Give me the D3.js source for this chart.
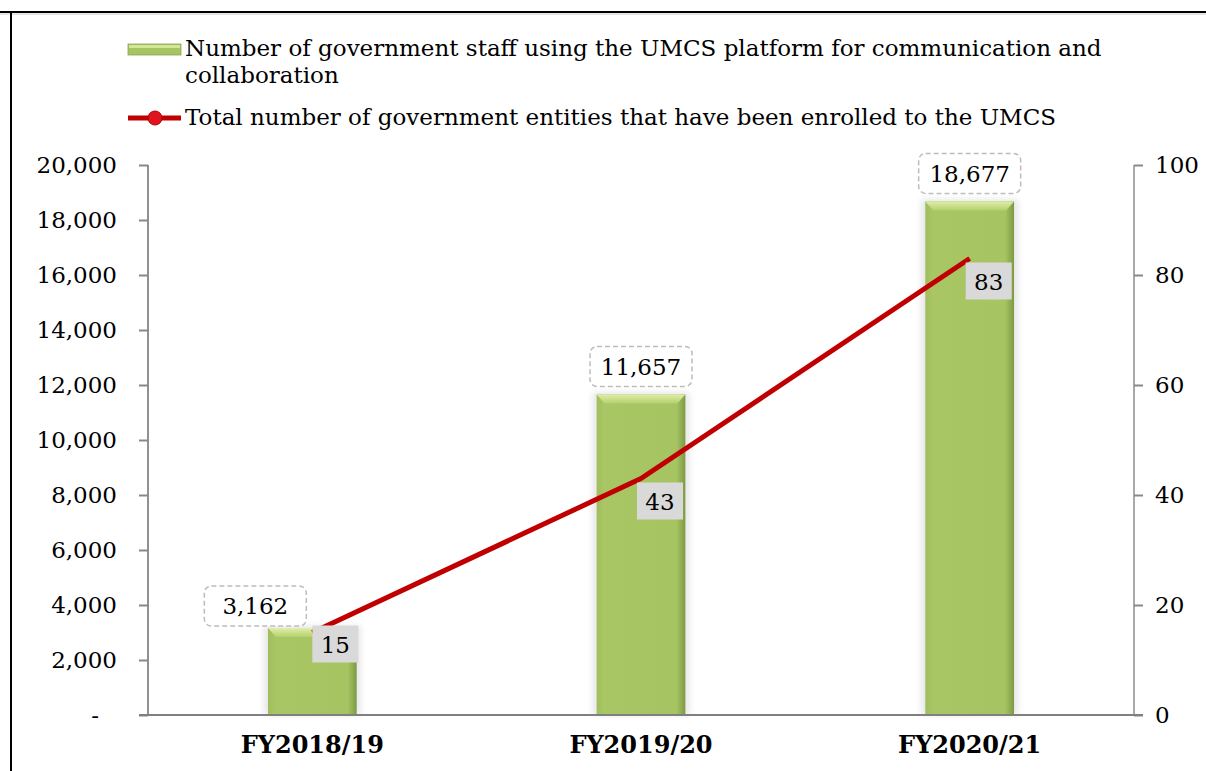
<!DOCTYPE html>
<html>
<head>
<meta charset="utf-8">
<script src="https://cdn.jsdelivr.net/npm/d3@7"></script>
<style>
    body { margin: 0; background: #fff; }
    svg { display: block; font-family: "DejaVu Serif", serif; }
</style>
</head>
<body>
<svg width="1206" height="771"></svg>
<script>
// chart data
const years = ["FY2018/19", "FY2019/20", "FY2020/21"];
const staffUsing = [3162, 11657, 18677];
const entitiesEnrolled = [15, 43, 83];
const leftTicks = [0, 2000, 4000, 6000, 8000, 10000, 12000, 14000, 16000, 18000, 20000];
const rightTicks = [0, 20, 40, 60, 80, 100];
const legendLabels = [
    ["Number of government staff using the UMCS platform for communication and", "collaboration"],
    ["Total number of government entities that have been enrolled to the UMCS"]
];

const svg = d3.select("svg"),
    width = +svg.attr("width"),
    height = +svg.attr("height");

const margin = {top: 165, right: 72, bottom: 56, left: 148};
const plotW = width - margin.left - margin.right,
    plotH = height - margin.top - margin.bottom;

const x = d3.scaleBand().domain(years).range([margin.left, margin.left + plotW]).paddingInner(0.73).paddingOuter(0.365);
const yLeft = d3.scaleLinear().domain([0, 20000]).range([margin.top + plotH, margin.top]);
const yRight = d3.scaleLinear().domain([0, 100]).range([margin.top + plotH, margin.top]);

const fmt = d3.format(",");

// frame
svg.append("line").attr("x1", 0).attr("x2", width).attr("y1", 12).attr("y2", 12)
    .attr("stroke", "#000").attr("stroke-width", 2);
svg.append("line").attr("x1", 0).attr("x2", width).attr("y1", 14).attr("y2", 14)
    .attr("stroke", "#ccc").attr("stroke-width", 1);
svg.append("line").attr("x1", 11).attr("x2", 11).attr("y1", 11).attr("y2", height)
    .attr("stroke", "#000").attr("stroke-width", 2);

const defs = svg.append("defs");
const barGrad = defs.append("linearGradient").attr("id", "barGrad")
    .attr("x1", 0).attr("x2", 1).attr("y1", 0).attr("y2", 0);
barGrad.append("stop").attr("offset", "0%").attr("stop-color", "#9fbd5c");
barGrad.append("stop").attr("offset", "8%").attr("stop-color", "#a8c664");
barGrad.append("stop").attr("offset", "90%").attr("stop-color", "#a6c462");
barGrad.append("stop").attr("offset", "100%").attr("stop-color", "#7d9a44");
const topGrad = defs.append("linearGradient").attr("id", "topGrad")
    .attr("x1", 0).attr("x2", 0).attr("y1", 0).attr("y2", 1);
topGrad.append("stop").attr("offset", "0%").attr("stop-color", "#e0eeaa");
topGrad.append("stop").attr("offset", "100%").attr("stop-color", "#b4d06e");
defs.append("filter").attr("id", "glow").attr("x", "-30%").attr("y", "-10%").attr("width", "160%").attr("height", "120%")
    .append("feGaussianBlur").attr("stdDeviation", 3);

// legend
const legend = svg.append("g").attr("font-size", 23).attr("fill", "#000");
legend.append("rect").attr("x", 128).attr("y", 44).attr("width", 53).attr("height", 11)
    .attr("fill", "#a6c462").attr("stroke", "#8aa650").attr("stroke-width", 0.8);
legend.append("rect").attr("x", 129).attr("y", 45).attr("width", 51).attr("height", 3).attr("fill", "#d4e69a");
legend.append("text").attr("x", 185).attr("y", 56)
    .selectAll("tspan").data(legendLabels[0]).join("tspan")
    .attr("x", 185).attr("dy", (d, i) => i ? 27 : 0).text(d => d);
legend.append("line").attr("x1", 128).attr("x2", 181).attr("y1", 118).attr("y2", 118)
    .attr("stroke", "#c00000").attr("stroke-width", 5);
legend.append("circle").attr("cx", 155).attr("cy", 118).attr("r", 7).attr("fill", "#e0141c").attr("stroke", "#b00000");
legend.append("text").attr("x", 185).attr("y", 125).text(legendLabels[1][0]);

// bars
const bars = svg.append("g");
const barG = bars.selectAll("g").data(staffUsing).join("g");
barG.append("rect")
    .attr("x", (d, i) => x(years[i]) - 4).attr("y", d => yLeft(d) - 2)
    .attr("width", x.bandwidth() + 8).attr("height", d => yLeft(0) - yLeft(d) + 2)
    .attr("fill", "#d6d6d6").attr("opacity", 0.6).attr("filter", "url(#glow)");
barG.append("rect")
    .attr("x", (d, i) => x(years[i])).attr("y", d => yLeft(d))
    .attr("width", x.bandwidth()).attr("height", d => yLeft(0) - yLeft(d))
    .attr("fill", "url(#barGrad)");
barG.append("path")
    .attr("d", (d, i) => {
        const x0 = x(years[i]), x1 = x0 + x.bandwidth(), y0 = yLeft(d);
        return `M${x0},${y0}L${x1},${y0}L${x1 - 8},${y0 + 9}L${x0 + 8},${y0 + 9}Z`;
    })
    .attr("fill", "url(#topGrad)");

// axes
const gLeft = svg.append("g").attr("transform", `translate(${margin.left},0)`)
    .call(d3.axisLeft(yLeft).tickValues(leftTicks).tickSize(9).tickPadding(22)
        .tickFormat(d => d === 0 ? "-" : fmt(d)));
gLeft.select(".domain").attr("stroke", "#222").attr("stroke-width", 1).attr("d", `M0,${yLeft(20000)}V${yLeft(0)}`);
gLeft.selectAll(".tick line").attr("stroke", "#888").attr("stroke-width", 2);
gLeft.selectAll(".tick text").attr("font-size", 23).attr("font-family", "DejaVu Serif").attr("fill", "#000")
    .attr("dx", d => d === 0 ? -18 : 0);

const gRight = svg.append("g").attr("transform", `translate(${margin.left + plotW},0)`)
    .call(d3.axisRight(yRight).tickValues(rightTicks).tickSize(9).tickPadding(12));
gRight.select(".domain").attr("stroke", "#555").attr("stroke-width", 1).attr("d", `M0,${yRight(100)}V${yRight(0)}`);
gRight.selectAll(".tick line").attr("stroke", "#888").attr("stroke-width", 2);
gRight.selectAll(".tick text").attr("font-size", 23).attr("font-family", "DejaVu Serif").attr("fill", "#000");

// baseline
svg.append("line").attr("x1", margin.left - 9).attr("x2", margin.left + plotW + 9)
    .attr("y1", yLeft(0)).attr("y2", yLeft(0)).attr("stroke", "#808080").attr("stroke-width", 2);

const gBottom = svg.append("g").attr("transform", `translate(0,${yLeft(0)})`)
    .call(d3.axisBottom(x).tickSize(0).tickPadding(21));
gBottom.select(".domain").remove();
gBottom.selectAll(".tick text").attr("font-size", 24).attr("font-weight", "bold")
    .attr("font-family", "DejaVu Serif").attr("fill", "#000");

// bar value labels
const barLabelShift = [[-57, 6], [0, 0], [0, 0]];
const bl = svg.append("g").selectAll("g").data(staffUsing).join("g")
    .attr("transform", (d, i) => `translate(${x(years[i]) + x.bandwidth() / 2 + barLabelShift[i][0]},${yLeft(d) - 28 + barLabelShift[i][1]})`);
bl.append("rect").attr("x", -51).attr("y", -20).attr("width", 102).attr("height", 40).attr("rx", 7)
    .attr("fill", "#fff").attr("stroke", "#bdbdbd").attr("stroke-width", 1.5).attr("stroke-dasharray", "5,3");
bl.append("text").attr("text-anchor", "middle").attr("dy", "0.36em").attr("font-size", 23).text(d => fmt(d));

// line series
const cx = i => x(years[i]) + x.bandwidth() / 2;
svg.append("path").datum(entitiesEnrolled)
    .attr("d", d3.line().x((d, i) => cx(i)).y(d => yRight(d)))
    .attr("fill", "none").attr("stroke", "#c00000").attr("stroke-width", 5).attr("stroke-linejoin", "round");

const ll = svg.append("g").selectAll("g").data(entitiesEnrolled).join("g")
    .attr("transform", (d, i) => `translate(${cx(i) - 4 + (i === 0 ? 4 : 0)},${yRight(d) + (i === 0 ? -7 : 4)})`);
ll.append("rect").attr("width", 46).attr("height", 37).attr("fill", "#d9d9d9");
ll.append("text").attr("x", 23).attr("y", 19).attr("dy", "0.36em").attr("text-anchor", "middle")
    .attr("font-size", 23).text(d => d);
</script>
</body>
</html>
